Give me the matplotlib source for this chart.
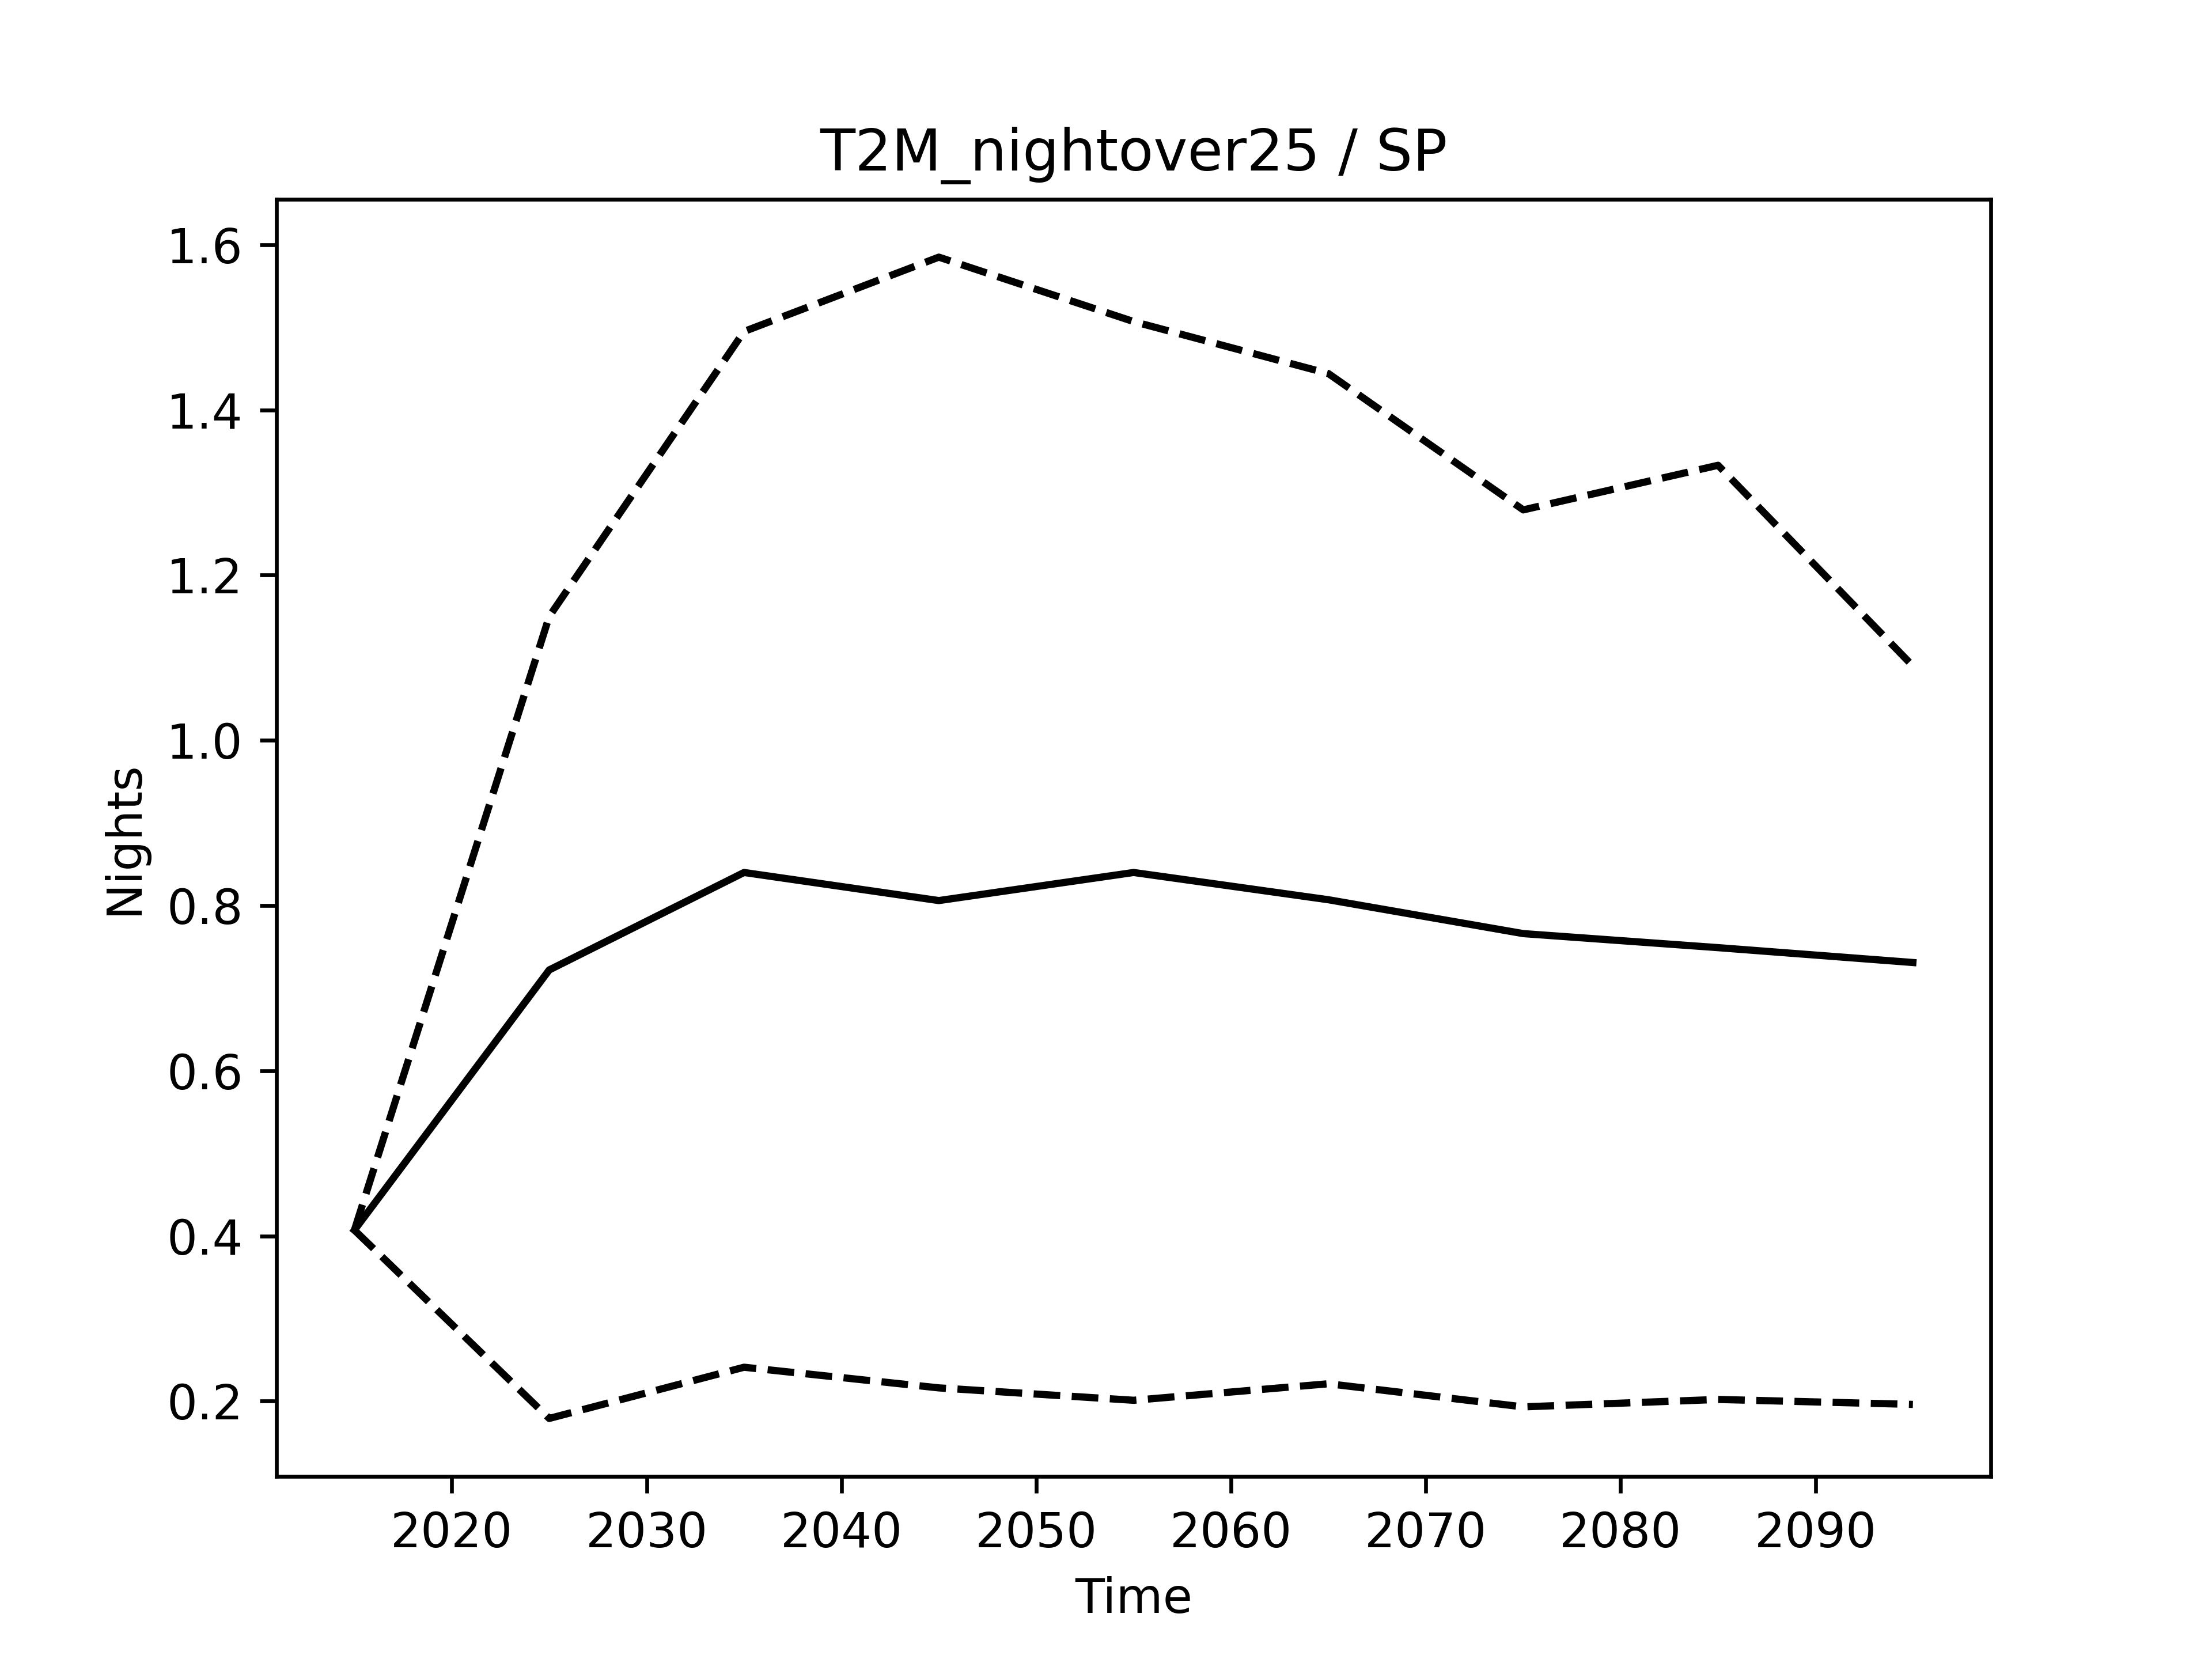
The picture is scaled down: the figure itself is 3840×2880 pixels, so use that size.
import matplotlib
matplotlib.use("Agg")
import matplotlib.pyplot as plt

years = [2015, 2025, 2035, 2045, 2055, 2065, 2075, 2085, 2095]
mean_vals = [0.407, 0.722, 0.840, 0.806, 0.840, 0.807, 0.766, 0.749, 0.731]
upper_vals = [0.407, 1.150, 1.495, 1.585, 1.507, 1.444, 1.279, 1.333, 1.090]
lower_vals = [0.407, 0.179, 0.241, 0.216, 0.201, 0.221, 0.193, 0.202, 0.196]

fig, ax = plt.subplots(figsize=(6.4, 4.8), dpi=600)
ax.plot(years, mean_vals, color="black", linestyle="-")
ax.plot(years, upper_vals, color="black", linestyle="--")
ax.plot(years, lower_vals, color="black", linestyle="--")
ax.set_title("T2M_nightover25 / SP")
ax.set_xlabel("Time")
ax.set_ylabel("Nights")
fig.savefig("out.png", dpi=600)
